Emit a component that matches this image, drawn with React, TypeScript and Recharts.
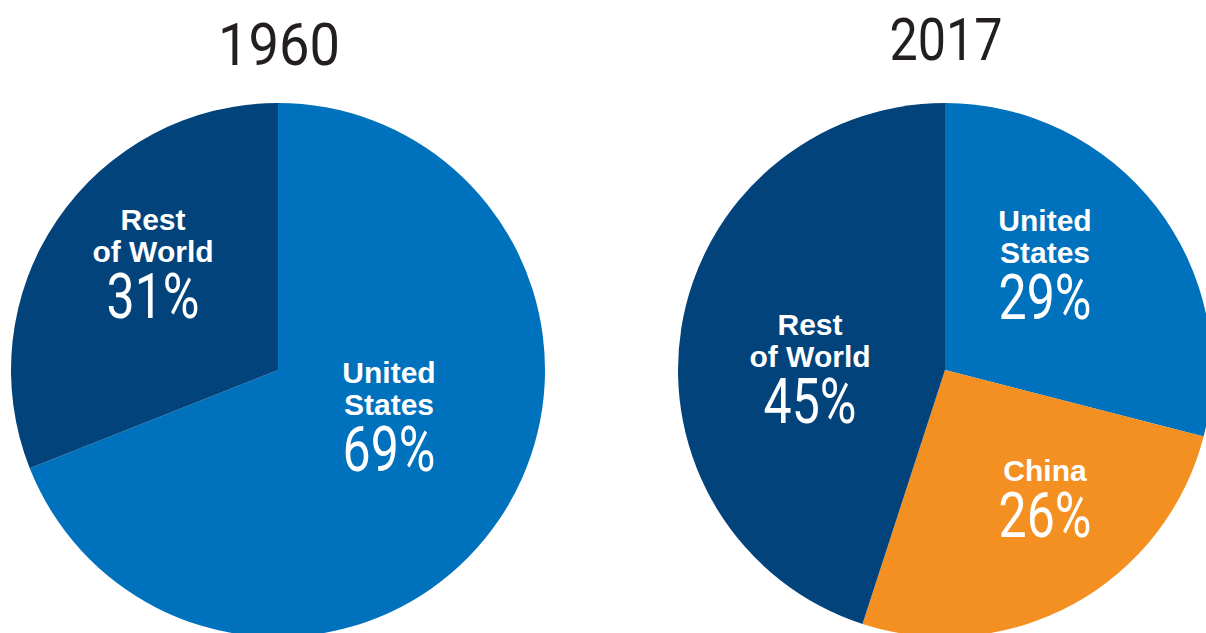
import React from "react";
import { PieChart, Pie, Cell } from "recharts";

// shares of the total
const YEARS = ["1960", "2017"];
const NAMES_1960 = ["United States", "Rest of World"];
const VALUES_1960 = [69, 31];
const NAMES_2017 = ["United States", "China", "Rest of World"];
const VALUES_2017 = [29, 26, 45];

const COLORS: Record<string, string> = {
  "United States": "#0071BC",
  "Rest of World": "#02437C",
  China: "#F39021",
};

// label lines split the way the source wraps them
const LABEL_LINES: Record<string, string[]> = {
  "United States": ["United", "States"],
  "Rest of World": ["Rest", "of World"],
  China: ["China"],
};

// where each label block sits relative to its pie's centre (x, first baseline)
const LABEL_POS: Record<string, [number, number]> = {
  "1960|United States": [111, 13],
  "1960|Rest of World": [-125, -140],
  "2017|United States": [100, -139],
  "2017|China": [100, 111],
  "2017|Rest of World": [-135, -35],
};

const W = 1206;
const H = 633;
const R = 267;
const CY = 370;
const CX = [278, 945];

const BOLD_FONT = "'Liberation Sans', Arial, sans-serif";
const THIN_FONT = "Roboto, sans-serif";

function makeLabel(year: string, names: string[]) {
  return (props: any) => {
    const { cx, cy, index, value } = props;
    const name = names[index];
    const [dx, dy] = LABEL_POS[`${year}|${name}`];
    const x = cx + dx;
    const lines = LABEL_LINES[name];
    const pctY = cy + dy + (lines.length - 1) * 32 + 56;
    return (
      <g key={`lbl-${year}-${index}`}>
        {lines.map((line, i) => (
          <text
            key={line}
            x={x}
            y={cy + dy + i * 32}
            textAnchor="middle"
            fill="#fff"
            fontFamily={BOLD_FONT}
            fontWeight={700}
            fontSize={30}
          >
            {line}
          </text>
        ))}
        <text
          x={x}
          y={pctY}
          textAnchor="middle"
          fill="#fff"
          fontFamily={THIN_FONT}
          fontWeight={400}
          fontSize={63}
          textLength={93}
          lengthAdjust="spacingAndGlyphs"
        >
          {`${value}%`}
        </text>
      </g>
    );
  };
}

export default function App() {
  const data1960 = NAMES_1960.map((name, i) => ({ name, value: VALUES_1960[i] }));
  const data2017 = NAMES_2017.map((name, i) => ({ name, value: VALUES_2017[i] }));

  return (
    <div style={{ position: "absolute", left: 0, top: 0, width: W, height: H, background: "#fff", overflow: "hidden" }}>
      <PieChart width={W} height={H} margin={{ top: 0, right: 0, bottom: 0, left: 0 }}>
        <Pie
          data={data1960}
          dataKey="value"
          nameKey="name"
          cx={CX[0]}
          cy={CY}
          outerRadius={R}
          startAngle={90}
          endAngle={-270}
          stroke="none"
          labelLine={false}
          label={makeLabel(YEARS[0], NAMES_1960)}
          isAnimationActive={false}
        >
          {data1960.map((d) => (
            <Cell key={d.name} fill={COLORS[d.name]} />
          ))}
        </Pie>
        <Pie
          data={data2017}
          dataKey="value"
          nameKey="name"
          cx={CX[1]}
          cy={CY}
          outerRadius={R}
          startAngle={90}
          endAngle={-270}
          stroke="none"
          labelLine={false}
          label={makeLabel(YEARS[1], NAMES_2017)}
          isAnimationActive={false}
        >
          {data2017.map((d) => (
            <Cell key={d.name} fill={COLORS[d.name]} />
          ))}
        </Pie>
      </PieChart>
      <svg width={W} height={H} style={{ position: "absolute", left: 0, top: 0, pointerEvents: "none" }}>
        <text x={279} y={65} textAnchor="middle" fill="#231F20" fontFamily={THIN_FONT} fontSize={60} textLength={122} lengthAdjust="spacingAndGlyphs">
          {YEARS[0]}
        </text>
        <text x={946} y={60} textAnchor="middle" fill="#231F20" fontFamily={THIN_FONT} fontSize={60} textLength={113} lengthAdjust="spacingAndGlyphs">
          {YEARS[1]}
        </text>
      </svg>
    </div>
  );
}
